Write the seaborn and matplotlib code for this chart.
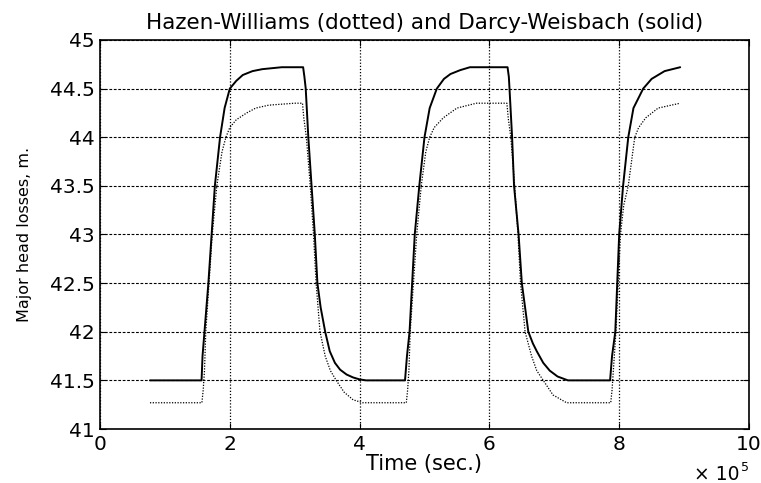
import matplotlib
matplotlib.use("Agg")
import matplotlib.pyplot as plt
import seaborn as sns
import pandas as pd

# time in units of 1e5 s
time_dw = [0.77, 1.565, 1.58, 1.61, 1.67, 1.72, 1.77, 1.85, 1.92, 2.0, 2.1, 2.2, 2.35, 2.5, 2.65, 2.8, 3.13,
           3.15, 3.17, 3.21, 3.26, 3.31, 3.35, 3.40, 3.47, 3.54, 3.62, 3.70, 3.80, 3.90, 4.0, 4.1,
           4.70, 4.73, 4.77, 4.81, 4.85, 4.92, 5.0, 5.08, 5.19, 5.3, 5.4, 5.55, 5.7, 6.28,
           6.30, 6.31, 6.35, 6.38, 6.45, 6.50, 6.55, 6.60, 6.67, 6.73, 6.83, 6.93, 7.05, 7.21,
           7.86, 7.89, 7.94, 7.97, 8.0, 8.06, 8.14, 8.22, 8.37, 8.5, 8.7, 8.94]
head_dw = [41.5, 41.5, 41.75, 42.0, 42.5, 43.0, 43.5, 44.0, 44.3, 44.5, 44.58, 44.64, 44.68, 44.70, 44.71, 44.72, 44.72,
           44.62, 44.5, 44.0, 43.5, 43.0, 42.5, 42.25, 42.0, 41.8, 41.68, 41.61, 41.56, 41.53, 41.51, 41.5,
           41.5, 41.75, 42.0, 42.5, 43.0, 43.5, 44.0, 44.3, 44.5, 44.6, 44.65, 44.69, 44.72, 44.72,
           44.62, 44.5, 44.0, 43.5, 43.0, 42.5, 42.25, 42.0, 41.88, 41.8, 41.68, 41.6, 41.54, 41.5,
           41.5, 41.75, 42.0, 42.5, 43.0, 43.5, 44.0, 44.3, 44.5, 44.6, 44.68, 44.72]

time_hw = [0.77, 1.57, 1.59, 1.61, 1.63, 1.68, 1.73, 1.80, 1.88, 1.94, 2.0, 2.1, 2.26, 2.4, 2.6, 3.0, 3.12,
           3.14, 3.18, 3.24, 3.29, 3.33, 3.39, 3.47, 3.55, 3.64, 3.76, 3.9, 4.05,
           4.72, 4.74, 4.76, 4.78, 4.83, 4.88, 4.95, 5.02, 5.08, 5.15, 5.29, 5.5, 5.8, 6.27,
           6.29, 6.33, 6.39, 6.44, 6.48, 6.55, 6.65, 6.73, 6.83, 6.98, 7.19,
           7.87, 7.89, 7.91, 7.95, 8.02, 8.07, 8.14, 8.24, 8.3, 8.41, 8.6, 8.94]
head_hw = [41.27, 41.27, 41.4, 41.6, 42.0, 42.5, 43.0, 43.5, 43.85, 44.0, 44.1, 44.18, 44.25, 44.3, 44.33, 44.35, 44.35,
           44.2, 44.0, 43.5, 43.0, 42.5, 42.0, 41.75, 41.6, 41.5, 41.38, 41.3, 41.27,
           41.27, 41.4, 41.6, 42.0, 42.5, 43.0, 43.5, 43.85, 44.0, 44.1, 44.2, 44.3, 44.35, 44.35,
           44.2, 44.0, 43.5, 43.0, 42.5, 42.0, 41.75, 41.6, 41.5, 41.35, 41.27,
           41.27, 41.4, 41.6, 42.0, 43.0, 43.3, 43.5, 44.0, 44.1, 44.2, 44.3, 44.35]

x_ticks = [0, 2, 4, 6, 8, 10]
y_ticks = [41, 41.5, 42, 42.5, 43, 43.5, 44, 44.5, 45]
y_tick_labels = ["41", "41.5", "42", "42.5", "43", "43.5", "44", "44.5", "45"]

df_dw = pd.DataFrame({"time": time_dw, "head": head_dw})
df_hw = pd.DataFrame({"time": time_hw, "head": head_hw})

sns.set_style("ticks")
plt.rcParams["font.family"] = ["DejaVu Sans"]
plt.rcParams["text.color"] = "black"
plt.rcParams["axes.labelcolor"] = "black"

fig = plt.figure(figsize=(7.61, 4.83), dpi=100)
ax = fig.add_axes([0.1314, 0.1118, 0.8528, 0.8054])

sns.lineplot(data=df_hw, x="time", y="head", ax=ax, color="black",
             linestyle=(0, (1, 1.2)), linewidth=0.9, estimator=None, sort=False)
sns.lineplot(data=df_dw, x="time", y="head", ax=ax, color="black",
             linewidth=1.4, estimator=None, sort=False)

ax.set_xlim(0, 10)
ax.set_ylim(41, 45)
ax.set_xticks(x_ticks)
ax.set_xticklabels([str(t) for t in x_ticks])
ax.set_yticks(y_ticks)
ax.set_yticklabels(y_tick_labels)
ax.xaxis.grid(True, color="black", linestyle=(0, (1, 1.5)), linewidth=0.9)
ax.yaxis.grid(True, color="black", linestyle=(0, (2.5, 1.5)), linewidth=0.8)
ax.set_axisbelow(True)
for s in ax.spines.values():
    s.set_visible(True)
    s.set_color("black")
    s.set_linewidth(1.2)
ax.tick_params(direction="in", length=4, width=0.8, labelsize=14.5, colors="black",
               top=True, right=True, pad=4)

ax.set_title("Hazen-Williams (dotted) and Darcy-Weisbach (solid)", fontsize=15.5, pad=8)
ax.set_xlabel("Time (sec.)", fontsize=15, labelpad=0)
ax.set_ylabel("Major head losses, m.", fontsize=11.5)
ax.yaxis.set_label_coords(-0.105, 0.5)
ax.text(0.985, -0.092, "× 10", transform=ax.transAxes, ha="right", va="top", fontsize=13.5)
ax.text(0.987, -0.082, "5", transform=ax.transAxes, ha="left", va="top", fontsize=9)

fig.savefig("out.png", dpi=100)
